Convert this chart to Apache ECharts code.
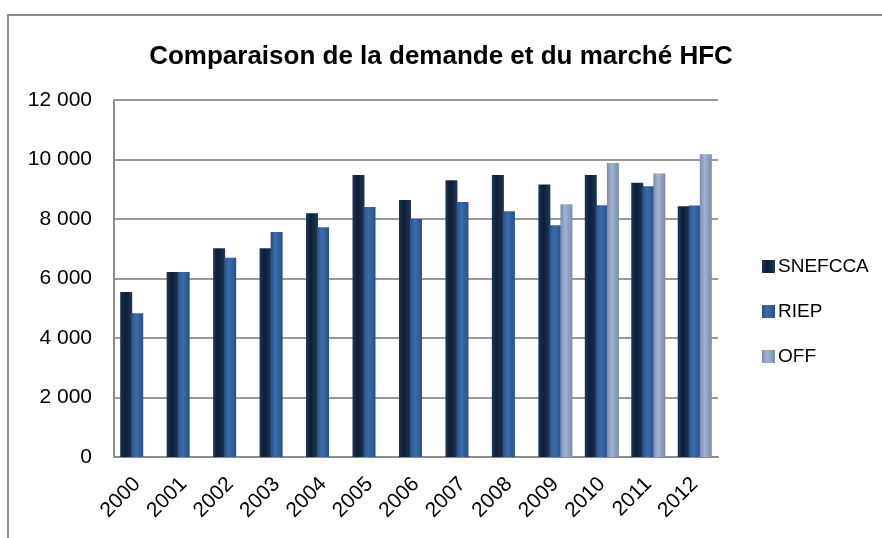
<!DOCTYPE html>
<html>
<head>
<meta charset="utf-8">
<script src="https://cdn.jsdelivr.net/npm/echarts@6/dist/echarts.min.js"></script>
<style>
  html, body { margin: 0; padding: 0; background: #fff; }
  .chart-frame {
    position: absolute;
    left: 7px;
    top: 14px;
    width: 900px;
    height: 560px;
    border-top: 2px solid #8c8c8c;
    border-left: 2px solid #8c8c8c;
  }
  #chart {
    position: absolute;
    left: 0;
    top: 0;
    width: 882px;
    height: 538px;
  }
</style>
</head>
<body>
<div class="chart-frame"></div>
<div id="chart"></div>
<script>
const years = ['2000', '2001', '2002', '2003', '2004', '2005', '2006', '2007', '2008', '2009', '2010', '2011', '2012']
const snefcca = [5550, 6220, 7020, 7020, 8190, 9480, 8640, 9300, 9480, 9160, 9480, 9220, 8430]
const riep = [4830, 6220, 6700, 7560, 7720, 8400, 8000, 8570, 8260, 7790, 8460, 9100, 8450]
const off = [null, null, null, null, null, null, null, null, null, 8500, 9880, 9530, 10180]

const font = '"Liberation Sans", Arial, sans-serif'

const cylinder = (edge, mid) => new echarts.graphic.LinearGradient(0, 0, 1, 0, [
  { offset: 0, color: edge },
  { offset: 0.4, color: mid },
  { offset: 1, color: edge }
])

const formatThousands = v => String(v).replace(/\B(?=(\d{3})+(?!\d))/g, ' ')

const chart = echarts.init(document.getElementById('chart'))
chart.setOption({
  animation: false,
  title: {
    text: 'Comparaison de la demande et du marché HFC',
    left: 'center',
    top: 39,
    textStyle: {
      fontFamily: font,
      fontSize: 26,
      fontWeight: 'bold',
      color: '#000'
    }
  },
  legend: {
    orient: 'vertical',
    left: 757,
    top: 252,
    itemWidth: 13,
    itemHeight: 13,
    itemGap: 26,
    icon: 'rect',
    textStyle: {
      fontFamily: font,
      fontSize: 19,
      color: '#000',
      padding: [0, 0, 0, -2]
    },
    data: ['SNEFCCA', 'RIEP', 'OFF']
  },
  grid: {
    left: 114,
    right: 164,
    top: 100,
    bottom: 81
  },
  xAxis: {
    type: 'category',
    data: years,
    axisLine: { lineStyle: { color: '#8c8c8c', width: 2 } },
    axisTick: { show: false },
    axisLabel: {
      rotate: 45,
      margin: 24,
      fontFamily: font,
      fontSize: 21,
      color: '#000',
      interval: 0
    }
  },
  yAxis: {
    type: 'value',
    min: 0,
    max: 12000,
    interval: 2000,
    axisLine: { show: true, lineStyle: { color: '#8c8c8c', width: 2 } },
    axisTick: { show: false },
    splitLine: { lineStyle: { color: '#999', width: 2 } },
    axisLabel: {
      margin: 22,
      fontFamily: font,
      fontSize: 21,
      color: '#000',
      formatter: formatThousands
    }
  },
  series: [{
    name: 'SNEFCCA',
    type: 'bar',
    data: snefcca,
    barWidth: 12,
    barGap: '-8%',
    itemStyle: { color: cylinder('#1f3658', '#0d1e35') }
  }, {
    name: 'RIEP',
    type: 'bar',
    data: riep,
    barWidth: 12,
    barGap: '-8%',
    itemStyle: { color: cylinder('#2a5185', '#3a6cad') }
  }, {
    name: 'OFF',
    type: 'bar',
    data: off,
    barWidth: 12,
    barGap: '-8%',
    itemStyle: { color: cylinder('#7b8bae', '#a3b2d2') }
  }]
})
</script>
</body>
</html>
